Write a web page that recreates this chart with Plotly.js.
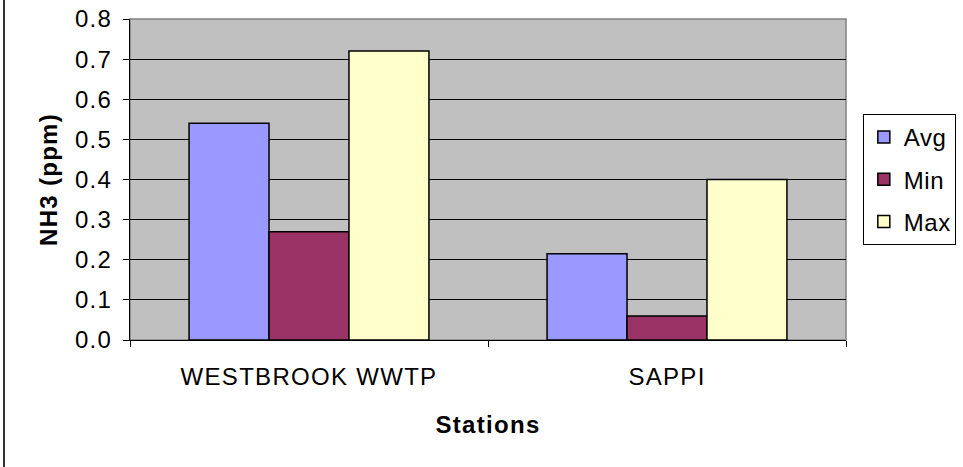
<!DOCTYPE html>
<html>
<head>
<meta charset="utf-8">
<script src="https://cdn.plot.ly/plotly-3.0.1.min.js"></script>
<style>
html,body{margin:0;padding:0;background:#fff;}
#wrap{position:relative;width:963px;height:467px;}
#chart{width:963px;height:467px;}
#chart text{letter-spacing:1.3px;}
#chart .legend text{letter-spacing:0.5px;}
#lb{position:absolute;left:3px;top:0;width:2px;height:467px;background:#333;}
</style>
</head>
<body>
<div id="wrap"><div id="chart"></div><div id="lb"></div></div>
<script>
const categories = ["WESTBROOK WWTP", "SAPPI"];
const avgValues = [0.54, 0.215];
const minValues = [0.27, 0.06];
const maxValues = [0.72, 0.40];
const seriesNames = ["Avg", "Min", "Max"];
const yTicks = [0, 0.1, 0.2, 0.3, 0.4, 0.5, 0.6, 0.7, 0.8];

const colors = ["#9999FF", "#993366", "#FFFFCC"];
const series = [avgValues, minValues, maxValues];
const font = "Liberation Sans, Arial, sans-serif";

const traces = series.map((vals, i) => ({
  type: "bar",
  name: seriesNames[i],
  x: categories,
  y: vals,
  legendgroup: "g" + i,
  marker: {color: colors[i], line: {color: "#000", width: 1.5}},
  hoverinfo: "none"
}));

const layout = {
  width: 963, height: 467,
  margin: {l: 130, r: 117, t: 19, b: 127, autoexpand: false},
  paper_bgcolor: "#fff",
  plot_bgcolor: "#C0C0C0",
  barmode: "group",
  bargap: 0.33,
  bargroupgap: 0,
  font: {family: font, size: 24, color: "#000"},
  showlegend: true,
  legend: {
    x: 1.0235, y: 0.704, xanchor: "left", yanchor: "top",
    bordercolor: "#000", borderwidth: 1, bgcolor: "#fff",
    font: {family: font, size: 24, color: "#000"},
    traceorder: "grouped", tracegroupgap: 8
  },
  xaxis: {
    type: "category",
    tickson: "boundaries",
    ticks: "outside", ticklen: 6, tickcolor: "#000",
    ticklabelstandoff: 15,
    showline: true, linecolor: "#000", linewidth: 1,
    showgrid: false, zeroline: false,
    tickfont: {family: font, size: 24},
    title: {text: "<b>Stations</b>", font: {family: font, size: 24}, standoff: 27},
    automargin: false
  },
  yaxis: {
    range: [0, 0.8],
    tickvals: yTicks,
    tickformat: ".1f",
    ticks: "outside", ticklen: 6, tickcolor: "#000",
    ticklabelstandoff: 6,
    showline: true, linecolor: "#000", linewidth: 1,
    showgrid: true, gridcolor: "#000", gridwidth: 1,
    zeroline: false,
    tickfont: {family: font, size: 24},
    title: {text: "<b>NH3 (ppm)</b>", font: {family: font, size: 24}, standoff: 14},
    automargin: false
  },
  shapes: [{
    type: "rect", xref: "paper", yref: "paper", x0: 0, x1: 1, y0: 0, y1: 1,
    line: {color: "#808080", width: 1.5}, layer: "below"
  }]
};

Plotly.newPlot("chart", traces, layout, {displayModeBar: false, staticPlot: true});
</script>
</body>
</html>
